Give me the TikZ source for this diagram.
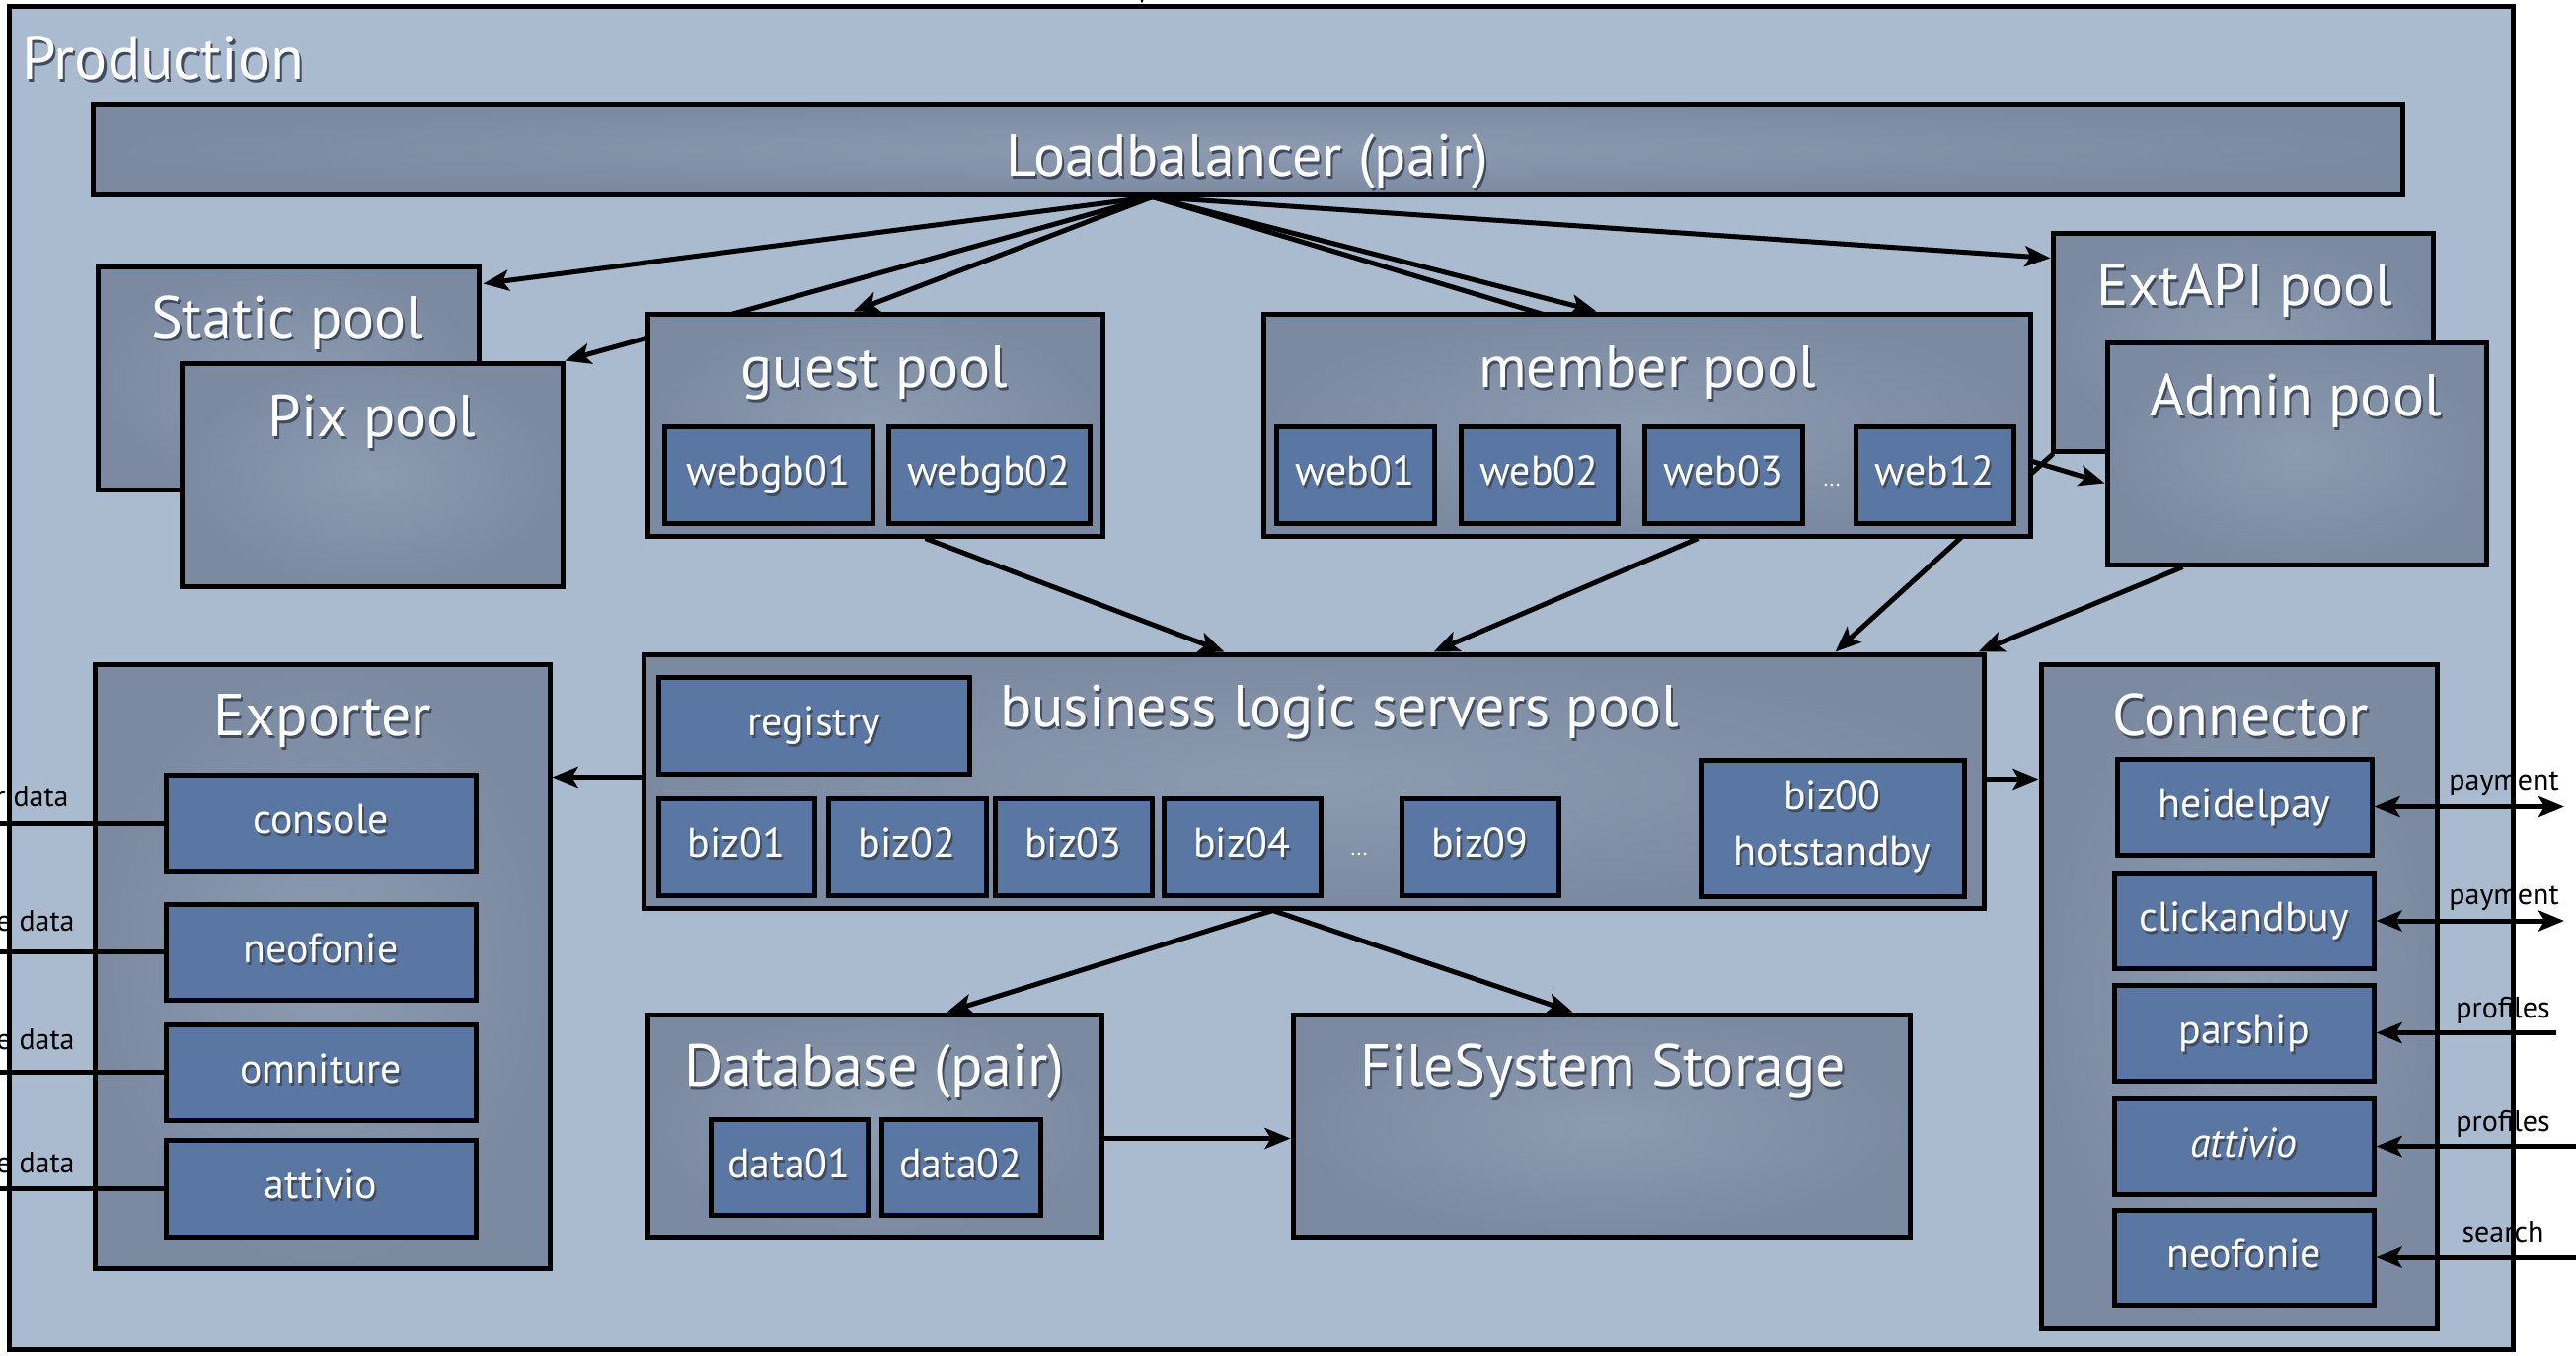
\documentclass[tikz,border=0pt]{standalone}
\usepackage{fontspec}
\setmainfont{PT Sans}
\usetikzlibrary{arrows.meta,calc}

\definecolor{bgpage}{HTML}{AABACF}
\definecolor{poolin}{HTML}{8D9BB1}
\definecolor{poolout}{HTML}{7C8AA1}
\definecolor{srvfill}{HTML}{5A76A3}
\definecolor{txtshadow}{HTML}{3F4B60}

% white label with a soft dark drop shadow
\newcommand\shd[1]{\makebox[0pt][l]{\kern1pt\raisebox{-1.5pt}{\textcolor{txtshadow}{#1}}}#1}
\newcommand\ttlfnt{\fontsize{30pt}{34pt}\selectfont}
\newcommand\prodfnt{\fontsize{31pt}{35pt}\selectfont}
\newcommand\srvfnt{\fontsize{21pt}{28pt}\selectfont}
\newcommand\lblfnt{\fontsize{15pt}{18pt}\selectfont}

% rectangle node from its corners (pixel units): style, name, x1, y1, x2, y2, text
\newcommand\boxnode[7]{%
  \pgfmathsetmacro\bw{(#5-#3)/2}%
  \pgfmathsetmacro\bh{(#6-#4)/2}%
  \node[#1, minimum width=\bw pt, minimum height=\bh pt] (#2) at ({(#3+#5)/2},{(#4+#6)/2}) {#7};}

\begin{document}
\begin{tikzpicture}[x=0.5pt,y=-0.5pt,
  frame/.style={draw=black, line width=2.5pt, fill=bgpage, inner sep=0pt},
  pool/.style={draw=black, line width=2.5pt, inner color=poolin, outer color=poolout, inner sep=0pt},
  srv/.style={draw=black, line width=2.5pt, fill=srvfill, text=white, inner sep=0pt,
              font=\srvfnt, text height=15pt, text depth=4.2pt},
  ttl/.style={text=white, font=\ttlfnt, anchor=base, inner sep=0pt},
  dots/.style={text=white, font=\fontsize{11pt}{12pt}\selectfont, anchor=base, inner sep=0pt},
  lbl/.style={text=black, font=\lblfnt, anchor=base, inner sep=0pt},
  wire/.style={line width=2.5pt},
  conn/.style={line width=2.5pt, -{Stealth[length=13pt,width=10.5pt,inset=3pt]}},
  conn2/.style={line width=2.5pt, {Stealth[length=13pt,width=10.5pt,inset=3pt]}-{Stealth[length=13pt,width=10.5pt,inset=3pt]}}]

\fill[white] (0,0) rectangle (2610,1373);
\useasboundingbox (0,0) rectangle (2610,1373);
\clip (0,0) rectangle (2610,1373);

% production frame
\boxnode{frame}{prod}{9}{6}{2546}{1367}{}
\node[text=white, font=\prodfnt, anchor=base west, inner sep=0pt] (prod-t) at (22,80) {\shd{Production}};

% front tier
\boxnode{pool}{lb}{94}{105}{2434}{197}{}
\node[ttl] (lb-t) at (1264,178) {\shd{Loadbalancer (pair)}};
\boxnode{pool}{static}{99}{270}{485}{496}{}
\node[ttl] (static-t) at (291,342) {\shd{Static pool}};
\boxnode{pool}{pix}{184}{368}{570}{594}{}
\node[ttl] (pix-t) at (377,442) {\shd{Pix pool}};
\boxnode{pool}{extapi}{2080}{236}{2465}{457}{}
\node[ttl] (extapi-t) at (2274,309) {\shd{ExtAPI pool}};
\boxnode{pool}{admin}{2135}{347}{2519}{572}{}
\node[ttl] (admin-t) at (2326,421) {\shd{Admin pool}};

% business logic tier
\boxnode{pool}{biz}{652}{663}{2010}{920}{}
\node[ttl] (biz-t) at (1357,736) {\shd{business logic servers pool}};
\boxnode{srv}{registry}{667}{686}{982}{784}{\shd{registry}}
\boxnode{srv}{biz01}{667}{809}{825}{907}{\shd{biz01}}
\boxnode{srv}{biz02}{839}{809}{999}{907}{\shd{biz02}}
\boxnode{srv}{biz03}{1008}{809}{1167}{907}{\shd{biz03}}
\boxnode{srv}{biz04}{1179}{809}{1338}{907}{\shd{biz04}}
\node[dots] (biz-dots) at (1377,866) {...};
\boxnode{srv}{biz09}{1420}{809}{1579}{907}{\shd{biz09}}
\boxnode{srv, text height=, text depth=, align=center, yshift=-3pt}{biz00}{1723}{764}{1990}{902}{\shd{biz00}\\\shd{hotstandby}}

% exporter
\boxnode{pool}{exporter}{96}{673}{557}{1285}{}
\node[ttl] (exporter-t) at (327,745) {\shd{Exporter}};
\boxnode{srv}{console}{168}{785}{482}{883}{\shd{console}}
\boxnode{srv}{neofonie}{168}{916}{482}{1013}{\shd{neofonie}}
\boxnode{srv}{omniture}{168}{1038}{482}{1135}{\shd{omniture}}
\boxnode{srv}{attivio}{168}{1155}{482}{1253}{\shd{attivio}}

% connector
\boxnode{pool}{connector}{2068}{673}{2469}{1346}{}
\node[ttl] (connector-t) at (2270,745) {\shd{Connector}};
\boxnode{srv}{heidelpay}{2145}{769}{2403}{866}{\shd{heidelpay}}
\boxnode{srv}{clickandbuy}{2142}{885}{2405}{981}{\shd{clickandbuy}}
\boxnode{srv}{parship}{2142}{998}{2405}{1095}{\shd{parship}}
\boxnode{srv}{attivio-c}{2142}{1113}{2405}{1210}{\shd{\itshape attivio}}
\boxnode{srv}{neofonie-c}{2142}{1226}{2405}{1322}{\shd{neofonie}}

% storage
\boxnode{pool}{database}{656}{1028}{1116}{1253}{}
\node[ttl] (database-t) at (886,1100) {\shd{Database (pair)}};
\boxnode{srv}{data01}{720}{1134}{879}{1231}{\shd{data01}}
\boxnode{srv}{data02}{893}{1134}{1054}{1231}{\shd{data02}}
\boxnode{pool}{fs}{1310}{1028}{1935}{1253}{}
\node[ttl] (fs-t) at (1624,1100) {\shd{FileSystem Storage}};

% links running behind the web pools
\coordinate (lb-o) at ($(lb.south west)+(1076,0)$);
\draw[conn] (lb-o) -- (pix.north east);
\draw[conn] (lb-o) -- ($(admin.north west)+(0,145)$);
\draw[conn] ($(extapi.south west)+(3,0)$) -- ($(biz.north west)+(1210,0)$);

% web tier
\boxnode{pool}{guest}{656}{318}{1117}{543}{}
\node[ttl] (guest-t) at (886,392) {\shd{guest pool}};
\boxnode{srv}{webgb01}{673}{432}{884}{530}{\shd{webgb01}}
\boxnode{srv}{webgb02}{900}{432}{1104}{530}{\shd{webgb02}}
\boxnode{pool}{member}{1280}{318}{2057}{543}{}
\node[ttl] (member-t) at (1669,392) {\shd{member pool}};
\boxnode{srv}{web01}{1293}{432}{1453}{530}{\shd{web01}}
\boxnode{srv}{web02}{1480}{432}{1639}{530}{\shd{web02}}
\boxnode{srv}{web03}{1666}{432}{1826}{530}{\shd{web03}}
\node[dots] (web-dots) at (1856,492) {...};
\boxnode{srv}{web12}{1880}{432}{2040}{530}{\shd{web12}}

% loadbalancer fan-out
\draw[conn] (lb-o) -- ($(static.north east)+(2,20)$);
\draw[conn] (lb-o) -- ($(guest.north west)+(211,0)$);
\draw[conn] (lb-o) -- ($(member.north west)+(340,0)$);
\draw[conn] (lb-o) -- ($(extapi.north west)+(0,28)$);

% web tier to business logic
\draw[conn] ($(guest.south west)+(284,0)$) -- ($(biz.north west)+(591,0)$);
\draw[conn] ($(member.south west)+(443,0)$) -- ($(biz.north west)+(803,0)$);
\draw[conn] ($(admin.south west)+(79,0)$) -- ($(biz.north east)+(-8,0)$);

% business logic to the rest
\draw[conn] ($(biz.north west)+(0,127)$) -- ($(exporter.north east)+(0,117)$);
\draw[conn] ($(biz.north east)+(0,129)$) -- ($(connector.north west)+(0,119)$);
\coordinate (biz-o) at ($(biz.south west)+(640,0)$);
\draw[conn] (biz-o) -- ($(database.north west)+(306,0)$);
\draw[conn] (biz-o) -- ($(fs.north west)+(286,0)$);
\draw[conn] ($(database.north east)+(0,128)$) -- ($(fs.north west)+(0,128)$);

% exporter feeds leaving on the left
\coordinate (lf) at (-20,0);
\draw[wire] (console.west) -- (console.west -| lf);
\draw[wire] (neofonie.west) -- (neofonie.west -| lf);
\draw[wire] (omniture.west) -- (omniture.west -| lf);
\draw[wire] (attivio.west) -- (attivio.west -| lf);
\node[lbl, anchor=base east] (lbl-d1) at (70,817) {r data};
\node[lbl, anchor=base east] (lbl-d2) at (76,943) {e data};
\node[lbl, anchor=base east] (lbl-d3) at (76,1063) {e data};
\node[lbl, anchor=base east] (lbl-d4) at (76,1188) {e data};

% connector feeds on the right
\coordinate (rt) at (2598,0);
\coordinate (rp) at (2590,0);
\coordinate (rfar) at (2640,0);
\draw[conn2] (heidelpay.east) -- (heidelpay.east -| rt);
\draw[conn2] (clickandbuy.east) -- (clickandbuy.east -| rt);
\draw[conn] (parship.east -| rp) -- (parship.east);
\draw[conn] (attivio-c.east -| rfar) -- (attivio-c.east);
\draw[conn] (neofonie-c.east -| rfar) -- (neofonie-c.east);
\node[lbl] (lbl-p1) at (2537,800) {payment};
\node[lbl] (lbl-p2) at (2537,916) {payment};
\node[lbl] (lbl-r1) at (2536,1031) {profiles};
\node[lbl] (lbl-r2) at (2536,1146) {profiles};
\node[lbl] (lbl-s) at (2536,1258) {search};

% incoming traffic at the top edge
\coordinate (in-top) at (1157,-40);
\draw[conn] (in-top) -- (in-top |- prod.north);
\end{tikzpicture}
\end{document}
